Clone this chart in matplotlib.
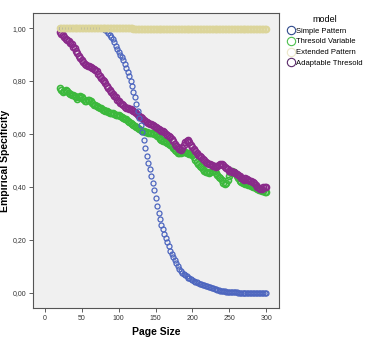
import numpy as np
import matplotlib
matplotlib.use("Agg")
import matplotlib.pyplot as plt
from matplotlib.lines import Line2D
from matplotlib.ticker import FuncFormatter

# ------------------ DATA ------------------
PAGE_SIZE = list(range(20, 301, 2))

SIMPLE_PATTERN = [
    1.0, 1.0, 1.0, 1.0, 1.0, 1.0, 1.0, 1.0, 1.0, 1.0,
    1.0, 1.0, 1.0, 1.0, 1.0, 1.0, 1.0, 1.0, 1.0, 1.0,
    1.0, 1.0, 1.0, 1.0, 1.0, 1.0, 1.0, 1.0, 1.0,
    0.999, 0.997, 0.994, 0.989, 0.983, 0.975, 0.966, 0.957, 0.946, 0.934,
    0.922, 0.910, 0.900, 0.890, 0.880, 0.866, 0.850, 0.836, 0.820, 0.800,
    0.780, 0.760, 0.738, 0.714, 0.688, 0.662, 0.635, 0.606, 0.576, 0.546,
    0.516, 0.490, 0.466, 0.442, 0.416, 0.388, 0.360, 0.330, 0.302, 0.280,
    0.258, 0.240, 0.224, 0.208, 0.192, 0.176, 0.160, 0.148, 0.136, 0.124,
    0.112, 0.100, 0.092, 0.084, 0.077, 0.071, 0.066, 0.062, 0.058, 0.055,
    0.052, 0.049, 0.046, 0.043, 0.040, 0.037, 0.035, 0.033, 0.031, 0.029,
    0.027, 0.025, 0.023, 0.021, 0.019, 0.017, 0.015, 0.013, 0.012, 0.010,
    0.009, 0.008, 0.007, 0.006, 0.005, 0.005, 0.004, 0.004, 0.003, 0.003,
    0.002, 0.002,
    0.001, 0.001, 0.001, 0.001, 0.001, 0.001, 0.001, 0.001, 0.001, 0.001,
    0.0, 0.0, 0.0, 0.0, 0.0, 0.0, 0.0, 0.0, 0.0, 0.0,
]

THRESOLD_VARIABLE = [
    0.772, 0.766, 0.760, 0.762, 0.766, 0.764, 0.756, 0.750, 0.748, 0.746,
    0.744, 0.738, 0.734, 0.738, 0.742, 0.740, 0.732, 0.726, 0.724, 0.728,
    0.730, 0.724, 0.716, 0.710, 0.708, 0.705, 0.702, 0.700, 0.698, 0.692,
    0.690, 0.688, 0.686, 0.684, 0.681, 0.680, 0.678, 0.675, 0.673, 0.671,
    0.670, 0.667, 0.664, 0.661, 0.658, 0.655, 0.650, 0.646, 0.642, 0.638,
    0.635, 0.630, 0.626, 0.622, 0.618, 0.615, 0.612, 0.610, 0.608, 0.606,
    0.605, 0.604, 0.603, 0.602, 0.601, 0.600, 0.594, 0.588, 0.582, 0.578,
    0.575, 0.572, 0.568, 0.565, 0.562, 0.560, 0.555, 0.548, 0.540, 0.534,
    0.530, 0.528, 0.530, 0.532, 0.533, 0.532, 0.530, 0.528, 0.526, 0.523,
    0.520, 0.512, 0.502, 0.494, 0.486, 0.480, 0.474, 0.468, 0.462, 0.458,
    0.455, 0.454, 0.456, 0.460, 0.462, 0.460, 0.454, 0.446, 0.438, 0.432,
    0.426, 0.416, 0.410, 0.414, 0.426, 0.440, 0.452, 0.460, 0.458, 0.452,
    0.442, 0.432, 0.424, 0.418, 0.415, 0.414, 0.412, 0.410, 0.408, 0.406,
    0.404, 0.401, 0.398, 0.395, 0.392, 0.390, 0.388, 0.386, 0.384, 0.381,
    0.380,
]

EXTENDED_PATTERN = [
    1.000, 1.000, 1.000, 1.000, 1.000, 1.000, 1.000, 1.000, 1.000, 1.000,
    1.000, 1.000, 1.000, 1.000, 1.000, 1.000, 1.000, 1.000, 1.000, 1.000,
    0.999, 0.999, 0.999, 0.999, 0.999, 0.999, 0.999, 0.999, 0.999, 0.999,
    0.999, 0.999, 0.999, 0.999, 0.999, 0.999, 0.999, 0.999, 0.999, 0.999,
    0.999, 0.999, 0.999, 0.999, 0.999, 0.999, 0.999, 0.999, 0.999, 0.999,
    0.998, 0.998, 0.998, 0.998, 0.998, 0.998, 0.998, 0.998, 0.998, 0.998,
    0.998, 0.998, 0.998, 0.998, 0.998, 0.998, 0.998, 0.998, 0.998, 0.998,
    0.998, 0.998, 0.998, 0.998, 0.998, 0.998, 0.998, 0.998, 0.998, 0.998,
    0.998, 0.998, 0.998, 0.998, 0.998, 0.998, 0.998, 0.998, 0.998, 0.998,
    0.997, 0.997, 0.997, 0.997, 0.997, 0.997, 0.997, 0.997, 0.997, 0.997,
    0.997, 0.997, 0.997, 0.997, 0.997, 0.997, 0.997, 0.997, 0.997, 0.997,
    0.997, 0.997, 0.997, 0.997, 0.997, 0.997, 0.997, 0.997, 0.997, 0.997,
    0.997, 0.997, 0.997, 0.997, 0.997, 0.997, 0.997, 0.997, 0.997, 0.997,
    0.997, 0.997, 0.997, 0.997, 0.997, 0.997, 0.997, 0.997, 0.997, 0.997,
    0.997,
]

ADAPTABLE_THRESOLD = [
    0.985, 0.978, 0.972, 0.968, 0.960, 0.955, 0.950, 0.942, 0.938, 0.930,
    0.925, 0.915, 0.905, 0.895, 0.887, 0.880, 0.872, 0.866, 0.860, 0.858,
    0.855, 0.852, 0.848, 0.846, 0.842, 0.838, 0.828, 0.818, 0.812, 0.805,
    0.800, 0.792, 0.782, 0.775, 0.768, 0.760, 0.752, 0.745, 0.738, 0.730,
    0.725, 0.718, 0.712, 0.708, 0.702, 0.700, 0.698, 0.695, 0.694, 0.692,
    0.688, 0.684, 0.678, 0.672, 0.668, 0.665, 0.660, 0.654, 0.648, 0.644,
    0.640, 0.638, 0.636, 0.634, 0.632, 0.628, 0.622, 0.618, 0.614, 0.612,
    0.610, 0.606, 0.600, 0.596, 0.592, 0.588, 0.580, 0.572, 0.564, 0.556,
    0.550, 0.542, 0.540, 0.548, 0.560, 0.570, 0.575, 0.576, 0.568, 0.558,
    0.550, 0.542, 0.534, 0.528, 0.522, 0.518, 0.512, 0.506, 0.500, 0.496,
    0.492, 0.488, 0.485, 0.482, 0.480, 0.478, 0.476, 0.478, 0.484, 0.488,
    0.486, 0.482, 0.476, 0.470, 0.466, 0.462, 0.460, 0.458, 0.455, 0.452,
    0.450, 0.446, 0.440, 0.434, 0.430, 0.428, 0.432, 0.430, 0.426, 0.424,
    0.424, 0.420, 0.414, 0.408, 0.400, 0.395, 0.392, 0.394, 0.398, 0.400,
    0.398,
]

LABELS = ['Simple Pattern', 'Thresold Variable', 'Extended Pattern', 'Adaptable Thresold']
COLORS = ['#4d66bf', '#3cb93c', '#dcd59a', '#8a2a8a']
LEGEND_COLORS = ['#2f4a8c', '#4cbf4c', '#ebe6c8', '#5a2a6a']
ZORDER = [4, 2, 5, 3]
MSIZE = [3.6, 4.3, 4.3, 4.3]
MEW = [0.9, 1.2, 1.2, 1.2]

# ------------------ PLOT ------------------
plt.rcParams.update({
    "font.family": "Liberation Sans",
    "font.size": 6,
})

fig = plt.figure(figsize=(3.92, 3.38), dpi=100)
ax = fig.add_axes([0.0842, 0.0888, 0.6276, 0.8728])
ax.set_facecolor('#f0f0f0')

series = [SIMPLE_PATTERN, THRESOLD_VARIABLE, EXTENDED_PATTERN, ADAPTABLE_THRESOLD]
for vals, color, z, ms, mew in zip(series, COLORS, ZORDER, MSIZE, MEW):
    ax.plot(PAGE_SIZE, vals, linestyle='none', marker='o', markersize=ms,
            markerfacecolor='none', markeredgecolor=color, markeredgewidth=mew,
            zorder=z)

ax.set_xlim(-16.3, 317.5)
ax.set_ylim(-0.057, 1.057)
ax.set_xticks([0, 50, 100, 150, 200, 250, 300])
ax.set_yticks([0.0, 0.2, 0.4, 0.6, 0.8, 1.0])
ax.yaxis.set_major_formatter(FuncFormatter(lambda v, p: f"{v:.2f}".replace('.', ',')))
ax.tick_params(axis='both', direction='out', length=3, width=0.6, color='#444444',
               labelsize=5, labelcolor='#333333', pad=2)

for spine in ax.spines.values():
    spine.set_color('#555555')
    spine.set_linewidth(0.8)

ax.set_xlabel('Page Size', fontsize=7.5, fontweight='bold', labelpad=4)
ax.set_ylabel('Empirical Specificity', fontsize=7.5, fontweight='bold')
ax.yaxis.set_label_coords(-0.095, 0.5)

handles = [Line2D([], [], linestyle='none', marker='o', markersize=6,
                  markerfacecolor='none', markeredgecolor=c, markeredgewidth=0.8)
           for c in LEGEND_COLORS]
leg = fig.legend(handles, LABELS, title='model', loc='upper left',
                 bbox_to_anchor=(0.725, 0.965), frameon=False, fontsize=5.5,
                 title_fontsize=6.5, handlelength=1.0, handletextpad=0.2,
                 labelspacing=0.45, borderaxespad=0)
leg._legend_box.align = 'center'

fig.savefig('out.png', dpi=100)
plt.close(fig)
